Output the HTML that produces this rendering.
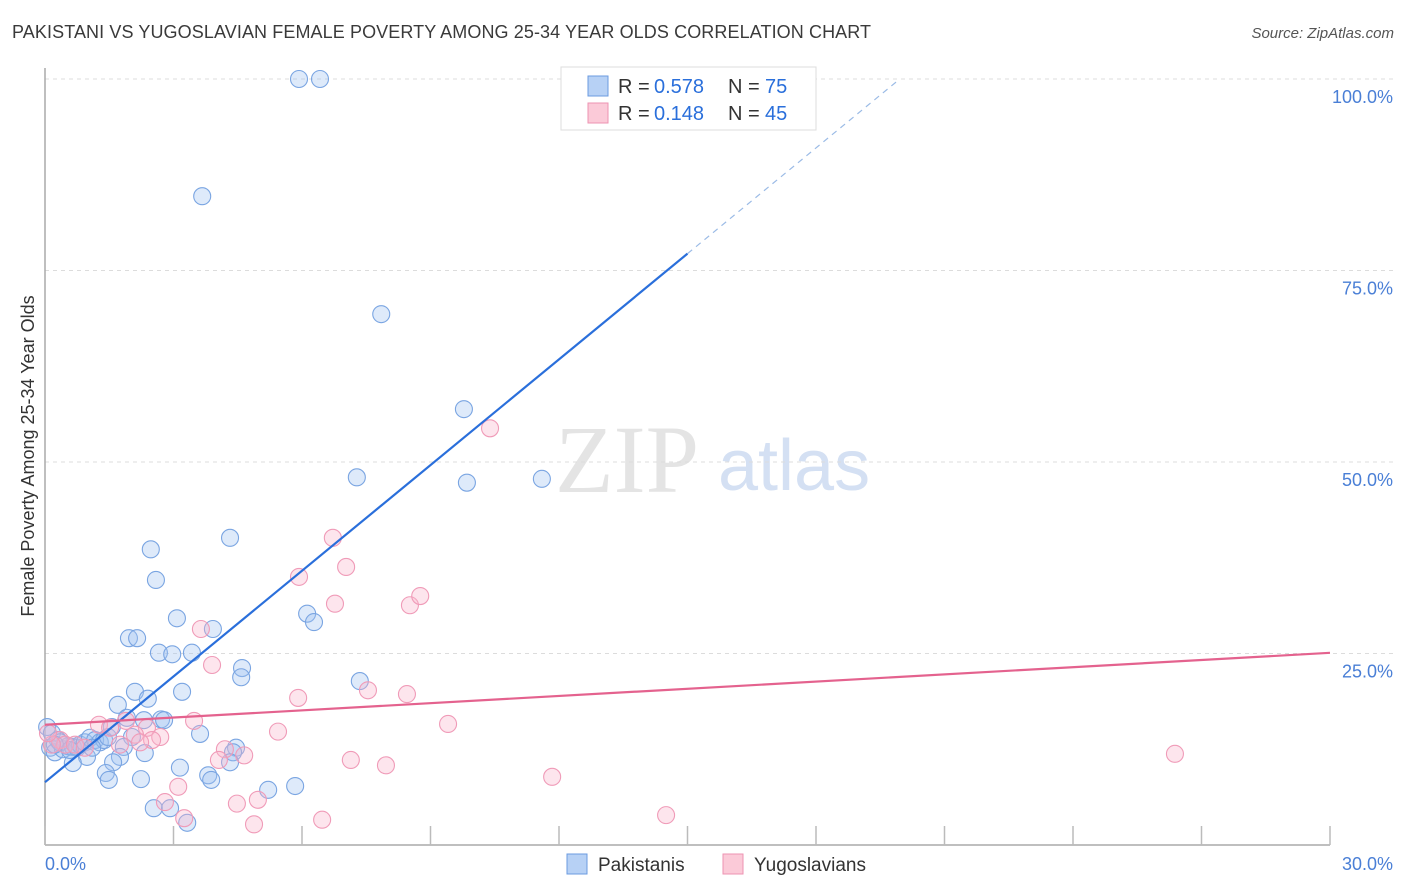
<!DOCTYPE html>
<html><head><meta charset="utf-8">
<style>
body{margin:0;background:#fff;font-family:"Liberation Sans",sans-serif;}
#wrap{position:relative;width:1406px;height:892px;overflow:hidden;}
.t{position:absolute;white-space:nowrap;}
</style></head>
<body>
<div id="wrap">
<div class="t" style="left:12px;top:22px;font-size:18px;color:#3a3a3a;letter-spacing:0.1px;">PAKISTANI VS YUGOSLAVIAN FEMALE POVERTY AMONG 25-34 YEAR OLDS CORRELATION CHART</div>
<div class="t" style="right:12px;top:25px;font-size:15px;color:#555;font-style:italic;">Source: ZipAtlas.com</div>
<svg id="svg" width="1406" height="892" style="position:absolute;left:0;top:0"></svg>
</div>
<script>
const xTicksPct=[0,3,6,9,12,15,18,21,24,27,30];
const yTicks=[25,50,75,100];
const yTickLabels=["25.0%","50.0%","75.0%","100.0%"];
const pakX=[5.93,6.42,3.67,7.85,9.78,7.28,9.85,11.6,4.32,2.47,2.59,3.08,6.12,6.28,3.92,1.96,2.15,2.66,2.97,3.43,4.60,4.58,7.35,3.20,2.10,2.40,1.70,1.91,2.31,2.71,2.78,3.62,2.03,0.05,0.16,0.30,0.12,0.23,0.42,0.54,0.65,0.75,0.82,0.93,1.05,1.17,1.28,1.38,1.47,1.56,0.98,0.65,1.84,4.46,4.39,4.32,1.75,1.59,2.33,1.42,1.49,2.24,3.15,3.81,3.88,5.21,5.84,2.54,2.92,3.32,0.35,0.58,1.10,0.23];
const pakY=[100,100,84.7,69.3,56.9,48.0,47.3,47.8,40.1,38.6,34.6,29.6,30.2,29.1,28.2,27.0,27.0,25.1,24.9,25.1,23.1,21.9,21.4,20.0,20.0,19.1,18.3,16.6,16.3,16.4,16.3,14.5,14.1,15.4,14.6,13.7,12.7,12.1,12.5,12.9,12.8,12.7,13.1,13.4,14.0,13.7,13.4,13.7,14.1,15.4,11.5,10.7,12.8,12.7,12.1,10.8,11.5,10.8,12.0,9.4,8.5,8.6,10.1,9.1,8.5,7.2,7.7,4.8,4.8,2.9,13.4,12.4,12.7,13.1];
const yugX=[10.39,6.72,7.03,5.93,6.77,8.52,8.76,3.64,3.90,5.91,7.54,8.45,9.41,3.48,1.89,2.38,2.10,2.69,2.50,1.26,1.52,0.35,0.47,4.20,4.65,4.06,5.44,7.14,7.96,26.38,11.84,3.11,2.80,4.48,4.97,3.25,4.88,6.47,14.50,0.16,0.70,0.93,0.07,1.75,2.22];
const yugY=[54.4,40.1,36.3,35.0,31.5,31.3,32.5,28.2,23.5,19.2,20.2,19.7,15.8,16.2,16.2,15.3,14.4,14.1,13.7,15.7,15.3,13.7,13.1,12.5,11.7,11.1,14.8,11.1,10.4,11.9,8.9,7.6,5.6,5.4,5.9,3.5,2.7,3.3,3.9,13.1,13.1,12.7,14.6,13.1,13.4];
const pakLine=[8.2,4.6];   // intercept, slope
const yugLine=[15.7,0.313];

const NS="http://www.w3.org/2000/svg";
const svg=document.getElementById('svg');
const X0=45,X1=1330,Y0=845,Y100=79;
const sx=v=>X0+(X1-X0)*v/30;
const sy=v=>Y0-(Y0-Y100)*v/100;
function el(tag,attrs,parent){const e=document.createElementNS(NS,tag);for(const k in attrs)e.setAttribute(k,attrs[k]);(parent||svg).appendChild(e);return e;}

let wm=el('text',{x:555,y:492,'font-size':96,'font-family':'Liberation Serif,serif',fill:'#e4e4e4'});


wm.textContent='ZIP';
let wm2=el('text',{x:718,y:490,'font-size':72,'font-family':'Liberation Sans,sans-serif',fill:'#d4e0f3'});


wm2.textContent='atlas';

yTicks.forEach((v,i)=>{
  let g=el('line',{x1:X0,x2:1395,y1:sy(v),y2:sy(v),stroke:'#dcdcdc','stroke-dasharray':'4,4'});
  
  
  let t=el('text',{x:1393,y:sy(v)+24,'text-anchor':'end','font-size':18,fill:'#4a7fd6'});
  
  
  t.textContent=yTickLabels[i];
});
let ya=el('line',{x1:X0,x2:X0,y1:68,y2:Y0,stroke:'#aaa','stroke-width':1.5});


let xa=el('line',{x1:X0,x2:X1,y1:Y0,y2:Y0,stroke:'#aaa','stroke-width':1.5});


xTicksPct.forEach(v=>{
  let t=el('line',{x1:sx(v),x2:sx(v),y1:826,y2:Y0,stroke:'#bbb','stroke-width':1.5});
  
  
});
[[0,'0.0%','start',45],[30,'30.0%','end',1393]].forEach(a=>{
  let t=el('text',{x:a[3],y:870,'text-anchor':a[2],'font-size':18,fill:'#4a7fd6'});
  
  
  t.textContent=a[1];
});
let yt=el('text',{x:34,y:456,'text-anchor':'middle','font-size':18,fill:'#333',transform:'rotate(-90 34 456)'});


yt.textContent='Female Poverty Among 25-34 Year Olds';

function dots(xs,ys,fill,stroke,name){
  xs.forEach((x,i)=>{
    let c=el('circle',{cx:sx(x),cy:sy(ys[i]),r:8.5,fill:fill,stroke:stroke,'stroke-width':1.1});
    
    
  });
}
dots(pakX,pakY,'rgba(160,195,240,0.35)','#7aa5e2','pakistani-point');
dots(yugX,yugY,'rgba(248,180,202,0.35)','#f09bb8','yugoslavian-point');

const xs=15, xe=(100-pakLine[0])/pakLine[1];
let bl=el('line',{x1:sx(0),y1:sy(pakLine[0]),x2:sx(xs),y2:sy(pakLine[0]+pakLine[1]*xs),stroke:'#2a6fdb','stroke-width':2.2});


let bd=el('line',{x1:sx(xs),y1:sy(pakLine[0]+pakLine[1]*xs),x2:sx(xe),y2:sy(100),stroke:'#9bbbe6','stroke-width':1.2,'stroke-dasharray':'6,5'});


let pl=el('line',{x1:sx(0),y1:sy(yugLine[0]),x2:sx(30),y2:sy(yugLine[0]+yugLine[1]*30),stroke:'#e4628e','stroke-width':2.2});



let lb=el('rect',{x:561,y:67,width:255,height:63,fill:'#fff',stroke:'#ddd'});


[[86,'#b7d1f5','#6b9be0','0.578','75'],[113,'#fbcad8','#ee93b2','0.148','45']].forEach(r=>{
  let s=el('rect',{x:588,y:r[0]-10,width:20,height:20,fill:r[1],stroke:r[2]});
  
  
  [[618,'R =','#333'],[654,r[3],'#2a6fdb'],[728,'N =','#333'],[765,r[4],'#2a6fdb']].forEach(p=>{
    let t=el('text',{x:p[0],y:r[0]+7,'font-size':20,fill:p[2]});
    
    
    t.textContent=p[1];
  });
});
[[567,'#b7d1f5','#6b9be0','Pakistanis',598],[723,'#fbcad8','#ee93b2','Yugoslavians',754]].forEach(r=>{
  let s=el('rect',{x:r[0],y:854,width:20,height:20,fill:r[1],stroke:r[2]});
  
  
  let t=el('text',{x:r[4],y:871,'font-size':19,fill:'#333'});
  
  
  t.textContent=r[3];
});
</script>
</body></html>
